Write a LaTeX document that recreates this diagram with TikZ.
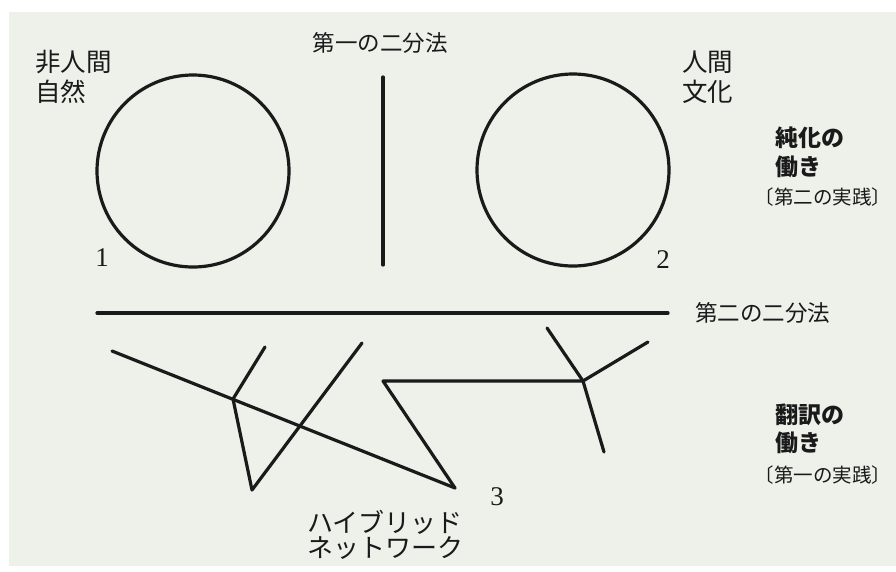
\documentclass[tikz,border=0pt]{standalone}
\usepackage{fontspec}
\newfontfamily\jp{Noto Sans CJK JP}
\setmainfont{Liberation Serif}
\definecolor{paper}{HTML}{EEF0EA}
\definecolor{ink}{HTML}{1A1A1A}
\begin{document}
\begin{tikzpicture}[x=1pt,y=-1pt,
  stroke/.style={draw=ink,line width=3.2pt,line cap=round,line join=round},
  lbl/.style={inner sep=0pt,text=ink,font=\jp\fontsize{25.5}{25.5}\selectfont},
  kata/.style={inner sep=0pt,text=ink,font=\jp\fontsize{26}{26}\selectfont},
  dich/.style={inner sep=0pt,text=ink,font=\jp\fontsize{22.5}{22.5}\selectfont},
  work/.style={inner sep=0pt,text=ink,font=\jp\bfseries\fontsize{23}{23}\selectfont},
  prac/.style={inner sep=0pt,text=ink,font=\jp\fontsize{19.5}{19.5}\selectfont},
  num/.style={inner sep=0pt,text=ink,font=\fontsize{27}{27}\selectfont},
  ring/.style={circle,draw=ink,line width=3.2pt,minimum size=192pt,inner sep=0pt}]
\useasboundingbox (0,0) rectangle (896,571);
\fill[white] (0,0) rectangle (896,571);
\fill[paper] (9,12) rectangle (896,566);

% circles
\node[ring] (c1) at (193,171) {};
\node[ring] (c2) at (573,170) {};

% first dichotomy (vertical)
\coordinate (v1) at (383,77);
\coordinate (v2) at (383,265);
\draw[stroke] (v1) -- (v2);

% second dichotomy (horizontal)
\coordinate (h1) at (97,313);
\coordinate (h2) at (668,313);
\draw[stroke] (h1) -- (h2);

% hybrid network
\coordinate (A) at (112,351);
\coordinate (J1) at (233,399);
\coordinate (B) at (265,347);
\coordinate (C) at (252,490);
\coordinate (D) at (362,343);
\coordinate (E) at (455,488);
\coordinate (F) at (383,381);
\coordinate (J2) at (583,381);
\coordinate (G) at (547,328);
\coordinate (H) at (648,342);
\coordinate (I) at (604,452);
\draw[stroke] (A) -- (E);
\draw[stroke] (J1) -- (B);
\draw[stroke] (J1) -- (C) -- (D);
\draw[stroke] (E) -- (F) -- (J2);
\draw[stroke] (J2) -- (G);
\draw[stroke] (J2) -- (H);
\draw[stroke] (J2) -- (I);

% labels
\node[dich] (t1) at (380,43) {第一の二分法};
\node[lbl,anchor=west] (n1) at (35,62) {非人間};
\node[lbl,anchor=west] (n2) at (35,92) {自然};
\node[lbl,anchor=west] (h1t) at (682,62) {人間};
\node[lbl,anchor=west] (h2t) at (682,92) {文化};
\node[work,anchor=west] (p1) at (775,138) {純化の};
\node[work,anchor=west] (p2) at (775,167) {働き};
\node[prac] (p3) at (823,197) {〔第二の実践〕};
\node[num] (one) at (102,258) {1};
\node[num] (two) at (663,260) {2};
\node[num] (three) at (497,497) {3};
\node[dich,anchor=west] (t2) at (695,313) {第二の二分法};
\node[kata,anchor=west] (hy1) at (307,522) {ハイブリッド};
\node[kata,anchor=west] (hy2) at (307,548) {ネットワーク};
\node[work,anchor=west] (q1) at (775,415) {翻訳の};
\node[work,anchor=west] (q2) at (775,443) {働き};
\node[prac] (q3) at (823,475) {〔第一の実践〕};
\end{tikzpicture}
\end{document}
